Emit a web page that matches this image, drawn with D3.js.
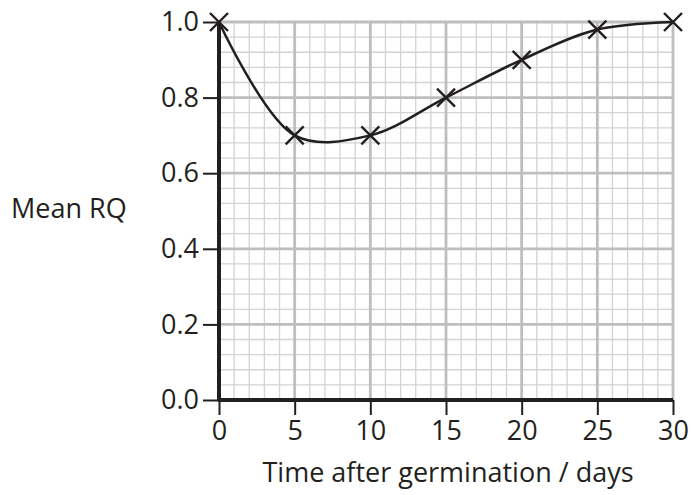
<!DOCTYPE html>
<html>
<head>
<meta charset="utf-8">
<script src="https://cdn.jsdelivr.net/npm/d3@7"></script>
<style>
  body { margin: 0; background: #fff; }
  text { font-family: "Open Sans", sans-serif; fill: #231f20; }
</style>
</head>
<body>
<div id="chart"></div>
<script>
// data
var days = [0, 5, 10, 15, 20, 25, 30];
var meanRQ = [1.0, 0.70, 0.70, 0.80, 0.90, 0.98, 1.0];
var xTicks = [0, 5, 10, 15, 20, 25, 30];
var yTicks = [0.0, 0.2, 0.4, 0.6, 0.8, 1.0];

var width = 692, height = 495;
var margin = {top: 22, right: 19, bottom: 95, left: 219};
var w = width - margin.left - margin.right,
    h = height - margin.top - margin.bottom;

var svg = d3.select("#chart").append("svg")
    .attr("width", width)
    .attr("height", height)
  .append("g")
    .attr("transform", "translate(" + margin.left + "," + margin.top + ")");

var x = d3.scaleLinear().domain([0, 30]).range([0, w]);
var y = d3.scaleLinear().domain([0, 1]).range([h, 0]);

// minor grid (1 day, 0.04 RQ)
var minorX = d3.range(1, 31).filter(function(d) { return d % 5 != 0; });
var minorY = d3.range(1, 26).filter(function(d) { return d % 5 != 0; }).map(function(d) { return d * 0.04; });

svg.append("g").selectAll("line").data(minorX).enter().append("line")
    .attr("x1", function(d) { return x(d); }).attr("x2", function(d) { return x(d); })
    .attr("y1", 0).attr("y2", h)
    .attr("stroke", "#d1d3d4").attr("stroke-width", 1.3);
svg.append("g").selectAll("line").data(minorY).enter().append("line")
    .attr("y1", function(d) { return y(d); }).attr("y2", function(d) { return y(d); })
    .attr("x1", 0).attr("x2", w)
    .attr("stroke", "#d1d3d4").attr("stroke-width", 1.3);

// major grid
svg.append("g").selectAll("line").data(xTicks.slice(1)).enter().append("line")
    .attr("x1", function(d) { return x(d); }).attr("x2", function(d) { return x(d); })
    .attr("y1", 0).attr("y2", h)
    .attr("stroke", "#bcbec0").attr("stroke-width", 2.8);
svg.append("g").selectAll("line").data(yTicks.slice(1)).enter().append("line")
    .attr("y1", function(d) { return y(d); }).attr("y2", function(d) { return y(d); })
    .attr("x1", 0).attr("x2", w)
    .attr("stroke", "#bcbec0").attr("stroke-width", 2.8);

// axes
var xAxis = svg.append("g")
    .attr("transform", "translate(0," + h + ")")
    .call(d3.axisBottom(x).tickValues(xTicks).tickSize(15).tickPadding(6).tickFormat(d3.format("d")));
var yAxis = svg.append("g")
    .call(d3.axisLeft(y).tickValues(yTicks).tickSize(16).tickPadding(4).tickFormat(d3.format(".1f")));

[xAxis, yAxis].forEach(function(a) {
  a.select(".domain").remove();
  a.selectAll(".tick line").attr("stroke", "#231f20").attr("stroke-width", 2);
  a.selectAll("text").style("font-size", "27px").attr("fill", "#231f20");
});

svg.append("line").attr("x1", -1).attr("x2", w).attr("y1", h).attr("y2", h)
    .attr("stroke", "#231f20").attr("stroke-width", 4);
svg.append("line").attr("x1", 0).attr("x2", 0).attr("y1", 0).attr("y2", h)
    .attr("stroke", "#231f20").attr("stroke-width", 4);

// curve
var pts = days.map(function(d, i) { return [d, meanRQ[i]]; });
var line = d3.line()
    .x(function(d) { return x(d[0]); })
    .y(function(d) { return y(d[1]); })
    .curve(d3.curveCatmullRom.alpha(0.5));

svg.append("path").datum(pts)
    .attr("d", line)
    .attr("fill", "none")
    .attr("stroke", "#231f20")
    .attr("stroke-width", 2.5);

// crosses
var s = 9;
var marks = svg.append("g").selectAll("g").data(pts).enter().append("g")
    .attr("transform", function(d) { return "translate(" + x(d[0]) + "," + y(d[1]) + ")"; });
marks.append("path")
    .attr("d", "M" + -s + "," + -s + "L" + s + "," + s + "M" + -s + "," + s + "L" + s + "," + -s)
    .attr("stroke", "#231f20").attr("stroke-width", 2.4).attr("fill", "none");

// labels
svg.append("text")
    .attr("x", -208).attr("y", y(0.5) + 7)
    .style("font-size", "27px")
    .text("Mean RQ");
svg.append("text")
    .attr("x", w / 2 + 2).attr("y", h + 82)
    .attr("text-anchor", "middle")
    .style("font-size", "27px")
    .text("Time after germination / days");
</script>
</body>
</html>
